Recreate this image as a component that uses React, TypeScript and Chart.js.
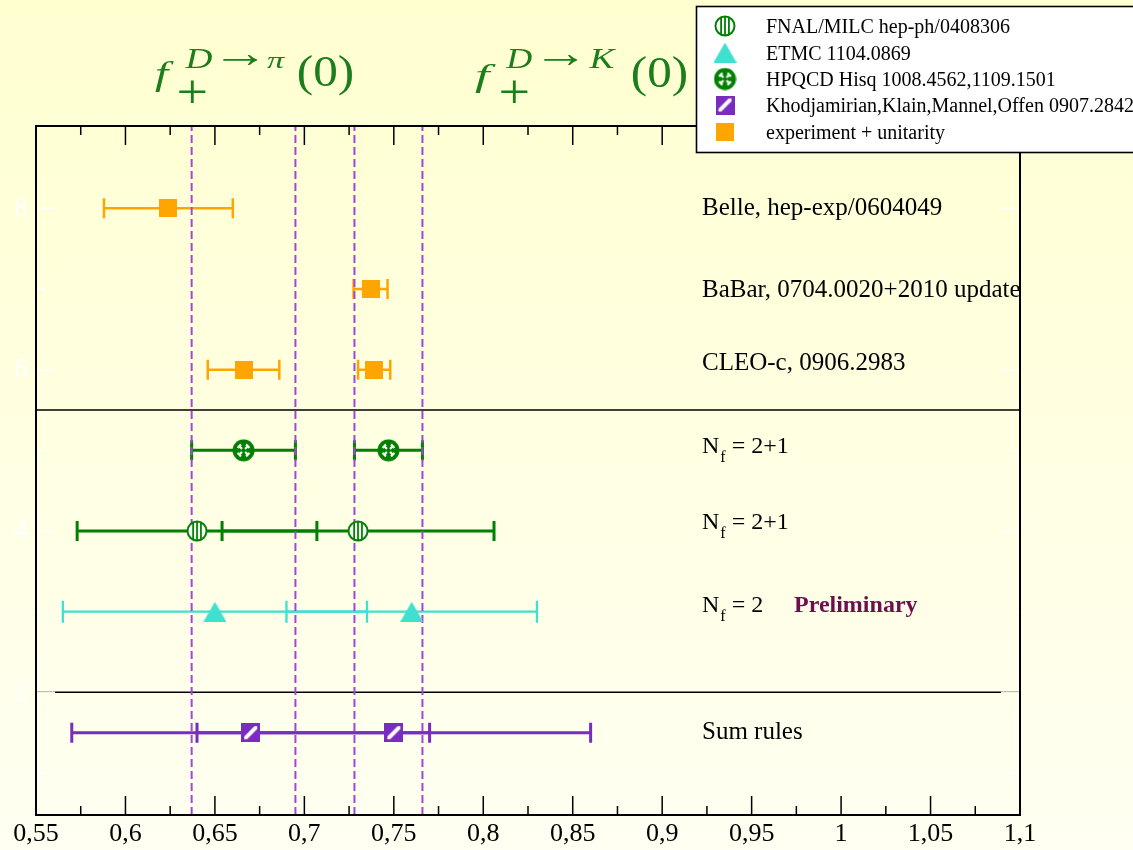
import React, { useEffect, useRef } from "react";
import { Chart, registerables } from "chart.js";

Chart.register(...registerables);

// Axis ranges
const X_MIN = 0.55;
const X_MAX = 1.1;
const Y_MIN = 0.48;
const Y_MAX = 9.02;

// experiment + unitarity: Belle (pi), BaBar (K), CLEO-c (pi, K)
const expX = [0.624, 0.737, 0.666, 0.739];
const expY = [8, 7, 6, 6];
const expErr = [0.036, 0.0095, 0.02, 0.009];

// HPQCD Hisq (pi, K)
const hpqcdX = [0.666, 0.747];
const hpqcdY = [5, 5];
const hpqcdErr = [0.029, 0.019];

// FNAL/MILC (pi, K)
const fnalX = [0.64, 0.73];
const fnalY = [4, 4];
const fnalErr = [0.067, 0.076];

// ETMC (pi, K)
const etmcX = [0.65, 0.76];
const etmcY = [3, 3];
const etmcErr = [0.085, 0.07];

// Light-cone sum rules (pi, K)
const lcsrX = [0.67, 0.75];
const lcsrY = [1.5, 1.5];
const lcsrErr = [0.1, 0.11];

// HPQCD bands shown as dashed verticals
const bandEdges = [0.637, 0.695, 0.728, 0.766];
// Group separators
const separatorY = [5.5, 2];

const rowTexts = ["Belle, hep-exp/0604049", "BaBar, 0704.0020+2010 update", "CLEO-c, 0906.2983"];
const rowTextY = [8, 7, 6];
const nfValues = ["2+1", "2+1", "2"];
const nfY = [5, 4, 3];
const sumRuleText = "Sum rules";
const sumRuleY = 1.5;
const preliminaryText = "Preliminary";

const legendLabels = [
  "FNAL/MILC hep-ph/0408306",
  "ETMC 1104.0869",
  "HPQCD Hisq 1008.4562,1109.1501",
  "Khodjamirian,Klain,Mannel,Offen 0907.2842",
  "experiment + unitarity",
];

const ORANGE = "#ffa500";
const GREEN = "#008000";
const TURQ = "#40e0d0";
const PURPLE = "#7a2cc0";
const DASH = "#a346d6";
const TITLE_GREEN = "#1b7d1b";
const PRELIM = "#6c0f50";
const SERIF = '"Liberation Serif", "Times New Roman", serif';

type Ctx = CanvasRenderingContext2D;

function markerCanvas(w: number, h: number, draw: (g: Ctx) => void): HTMLCanvasElement {
  const c = document.createElement("canvas");
  c.width = w;
  c.height = h;
  draw(c.getContext("2d") as Ctx);
  return c;
}

function makeMarkers() {
  const square = markerCanvas(18, 18, (g) => {
    g.fillStyle = ORANGE;
    g.fillRect(0, 0, 18, 18);
  });
  const triangle = markerCanvas(23, 20, (g) => {
    g.fillStyle = TURQ;
    g.beginPath();
    g.moveTo(11.5, 0);
    g.lineTo(23, 20);
    g.lineTo(0, 20);
    g.closePath();
    g.fill();
  });
  const striped = markerCanvas(22, 22, (g) => {
    g.save();
    g.beginPath();
    g.arc(11, 11, 9.5, 0, Math.PI * 2);
    g.fillStyle = "#fff";
    g.fill();
    g.clip();
    g.fillStyle = GREEN;
    [6.2, 10.1, 14.0].forEach((x) => g.fillRect(x, 0, 1.8, 22));
    g.restore();
    g.beginPath();
    g.arc(11, 11, 9.5, 0, Math.PI * 2);
    g.strokeStyle = GREEN;
    g.lineWidth = 2;
    g.stroke();
  });
  const crossed = markerCanvas(23, 23, (g) => {
    const c = 11.5;
    g.beginPath();
    g.arc(c, c, 11, 0, Math.PI * 2);
    g.fillStyle = GREEN;
    g.fill();
    g.strokeStyle = "#fff";
    g.lineWidth = 2.2;
    for (let k = 0; k < 4; k++) {
      const a = Math.PI / 4 + (k * Math.PI) / 2;
      const ux = Math.cos(a);
      const uy = Math.sin(a);
      g.beginPath();
      g.moveTo(c + ux * 2.2, c + uy * 2.2);
      g.lineTo(c + ux * 6.5, c + uy * 6.5);
      g.moveTo(c + ux * 6 - uy * 2.4, c + uy * 6 + ux * 2.4);
      g.lineTo(c + ux * 6 + uy * 2.4, c + uy * 6 - ux * 2.4);
      g.stroke();
    }
  });
  const hatched = markerCanvas(19, 19, (g) => {
    g.fillStyle = PURPLE;
    g.fillRect(0, 0, 19, 19);
    g.save();
    g.beginPath();
    g.rect(3, 3, 13, 13);
    g.clip();
    g.strokeStyle = "#fff";
    g.lineWidth = 4;
    g.beginPath();
    g.moveTo(2, 17);
    g.lineTo(17, 2);
    g.stroke();
    g.restore();
  });
  return { square, triangle, striped, crossed, hatched };
}

// Draws a piece of text stretched so that its ink fills the given box.
function fitText(ctx: Ctx, text: string, font: string, x0: number, y0: number, x1: number, y1: number) {
  ctx.save();
  ctx.font = font;
  ctx.textAlign = "left";
  ctx.textBaseline = "alphabetic";
  const m = ctx.measureText(text);
  const w = m.actualBoundingBoxLeft + m.actualBoundingBoxRight;
  const h = m.actualBoundingBoxAscent + m.actualBoundingBoxDescent;
  ctx.translate(x0, y0);
  ctx.scale((x1 - x0) / w, (y1 - y0) / h);
  ctx.fillText(text, m.actualBoundingBoxLeft, m.actualBoundingBoxAscent);
  ctx.restore();
}

function drawFormFactorTitle(
  ctx: Ctx,
  meson: string,
  box: { f: number[]; D: number[]; arrow: number[]; meson: number[]; plus: number[]; arg: number[] }
) {
  ctx.fillStyle = TITLE_GREEN;
  fitText(ctx, "f", `italic 40px ${SERIF}`, box.f[0], box.f[1], box.f[2], box.f[3]);
  fitText(ctx, "D", `italic 27px ${SERIF}`, box.D[0], box.D[1], box.D[2], box.D[3]);
  fitText(ctx, "\u2192", `27px ${SERIF}`, box.arrow[0], box.arrow[1], box.arrow[2], box.arrow[3]);
  fitText(ctx, meson, `italic 27px ${SERIF}`, box.meson[0], box.meson[1], box.meson[2], box.meson[3]);
  fitText(ctx, "+", `38px ${SERIF}`, box.plus[0], box.plus[1], box.plus[2], box.plus[3]);
  fitText(ctx, "(0)", `42px ${SERIF}`, box.arg[0], box.arg[1], box.arg[2], box.arg[3]);
}

function formatTick(v: number): string {
  return (Math.round(v * 1000) / 1000).toString().replace(".", ",");
}

export default function App() {
  const ref = useRef<HTMLCanvasElement>(null);

  useEffect(() => {
    const canvas = ref.current;
    if (!canvas) return;
    const mk = makeMarkers();

    const errorGroups = [
      { xs: expX, ys: expY, errs: expErr, color: ORANGE, width: 2.5, cap: 20 },
      { xs: hpqcdX, ys: hpqcdY, errs: hpqcdErr, color: GREEN, width: 3, cap: 20 },
      { xs: fnalX, ys: fnalY, errs: fnalErr, color: GREEN, width: 3, cap: 20 },
      { xs: etmcX, ys: etmcY, errs: etmcErr, color: TURQ, width: 2.3, cap: 22 },
      { xs: lcsrX, ys: lcsrY, errs: lcsrErr, color: PURPLE, width: 3, cap: 20 },
    ];

    const legendMarkers = [mk.striped, mk.triangle, mk.crossed, mk.hatched, mk.square];

    const toPoints = (xs: number[], ys: number[]) => xs.map((x, i) => ({ x, y: ys[i] }));

    const decor = {
      id: "decor",
      beforeDraw(chart: Chart) {
        const ctx = chart.ctx;
        const g = ctx.createLinearGradient(0, 0, 0, chart.height);
        g.addColorStop(0, "#ffffd0");
        g.addColorStop(1, "#fffff2");
        ctx.save();
        ctx.fillStyle = g;
        ctx.fillRect(0, 0, chart.width, chart.height);
        ctx.restore();
      },
      beforeDatasetsDraw(chart: Chart) {
        const ctx = chart.ctx;
        const { left, right, top, bottom } = chart.chartArea;
        const sx = chart.scales.x;
        const sy = chart.scales.y;
        ctx.save();

        // group separators
        ctx.strokeStyle = "#000";
        ctx.lineWidth = 1.5;
        separatorY.forEach((v) => {
          const py = sy.getPixelForValue(v);
          ctx.beginPath();
          ctx.moveTo(left, py);
          ctx.lineTo(right, py);
          ctx.stroke();
        });

        // inward y ticks (white)
        ctx.strokeStyle = "rgba(255,255,255,0.95)";
        ctx.lineWidth = 1.5;
        for (let v = 1; v <= 9; v++) {
          const py = sy.getPixelForValue(v);
          const len = v % 2 === 0 ? 19 : 9;
          ctx.beginPath();
          ctx.moveTo(left, py);
          ctx.lineTo(left + len, py);
          ctx.moveTo(right, py);
          ctx.lineTo(right - len, py);
          ctx.stroke();
        }

        // error bars
        errorGroups.forEach((grp) => {
          ctx.strokeStyle = grp.color;
          ctx.lineWidth = grp.width;
          ctx.lineCap = "butt";
          grp.xs.forEach((x, i) => {
            const py = sy.getPixelForValue(grp.ys[i]);
            const lo = sx.getPixelForValue(x - grp.errs[i]);
            const hi = sx.getPixelForValue(x + grp.errs[i]);
            ctx.beginPath();
            ctx.moveTo(lo, py);
            ctx.lineTo(hi, py);
            ctx.moveTo(lo, py - grp.cap / 2);
            ctx.lineTo(lo, py + grp.cap / 2);
            ctx.moveTo(hi, py - grp.cap / 2);
            ctx.lineTo(hi, py + grp.cap / 2);
            ctx.stroke();
          });
        });

        // HPQCD band edges
        ctx.strokeStyle = DASH;
        ctx.lineWidth = 2;
        ctx.setLineDash([8, 4]);
        bandEdges.forEach((v) => {
          const px = sx.getPixelForValue(v);
          ctx.beginPath();
          ctx.moveTo(px, bottom);
          ctx.lineTo(px, top);
          ctx.stroke();
        });
        ctx.restore();
      },
      afterDatasetsDraw(chart: Chart) {
        const ctx = chart.ctx;
        const { left, right, top, bottom } = chart.chartArea;
        const sx = chart.scales.x;
        const sy = chart.scales.y;
        ctx.save();

        // inward x ticks on bottom and top
        ctx.strokeStyle = "#000";
        ctx.lineWidth = 1.5;
        for (let i = 0; i <= 22; i++) {
          const v = X_MIN + i * 0.025;
          const px = sx.getPixelForValue(v);
          const len = i % 2 === 0 ? 19 : 9;
          ctx.beginPath();
          ctx.moveTo(px, bottom);
          ctx.lineTo(px, bottom - len);
          ctx.moveTo(px, top);
          ctx.lineTo(px, top + len);
          ctx.stroke();
        }

        // frame
        ctx.lineWidth = 2;
        ctx.strokeRect(left, top, right - left, bottom - top);

        // row labels
        const labelX = 702;
        ctx.fillStyle = "#000";
        ctx.textAlign = "left";
        ctx.textBaseline = "alphabetic";
        ctx.font = `25px ${SERIF}`;
        const rowShift = [6.5, 8, 0];
        rowTexts.forEach((t, i) => {
          ctx.fillText(t, labelX, sy.getPixelForValue(rowTextY[i]) + rowShift[i]);
        });
        const nfShift = [3, -2, 0];
        nfValues.forEach((val, i) => {
          const base = sy.getPixelForValue(nfY[i]) + nfShift[i];
          ctx.font = `24px ${SERIF}`;
          ctx.fillText("N", labelX, base);
          const wN = ctx.measureText("N").width;
          ctx.font = `16px ${SERIF}`;
          ctx.fillText("f", labelX + wN + 1, base + 9);
          const wf = ctx.measureText("f").width;
          ctx.font = `24px ${SERIF}`;
          ctx.fillText("= " + val, labelX + wN + wf + 7, base);
        });
        ctx.font = `bold 24px ${SERIF}`;
        ctx.fillStyle = PRELIM;
        ctx.fillText(preliminaryText, 794, sy.getPixelForValue(nfY[2]));
        ctx.font = `25px ${SERIF}`;
        ctx.fillStyle = "#000";
        ctx.fillText(sumRuleText, labelX, sy.getPixelForValue(sumRuleY) + 6);

        // titles
        drawFormFactorTitle(ctx, "\u03c0", {
          f: [155, 62, 174, 93],
          D: [184, 49, 213, 68],
          arrow: [222, 54, 258, 65],
          meson: [267, 57, 286, 68],
          plus: [178, 80, 206, 103],
          arg: [298, 54, 353, 97],
        });
        drawFormFactorTitle(ctx, "K", {
          f: [475, 63, 496, 93],
          D: [505, 48, 533, 68],
          arrow: [543, 54, 578, 65],
          meson: [588, 48, 617, 68],
          plus: [500, 80, 528, 103],
          arg: [632, 55, 687, 97],
        });

        // legend
        ctx.fillStyle = "#fff";
        ctx.fillRect(696, 6, 440, 147);
        ctx.strokeStyle = "#000";
        ctx.lineWidth = 1.6;
        ctx.strokeRect(696.5, 6.5, 440, 146);
        const legendBase = [33, 59.5, 86, 112, 139];
        ctx.font = `20px ${SERIF}`;
        ctx.fillStyle = "#000";
        legendLabels.forEach((t, i) => {
          const m = legendMarkers[i];
          const cy = legendBase[i] - 7;
          ctx.drawImage(m, 725 - m.width / 2, cy - m.height / 2);
          ctx.fillText(t, 766, legendBase[i]);
        });
        ctx.restore();
      },
    };

    const chart = new Chart(canvas, {
      type: "scatter",
      data: {
        datasets: [
          { data: toPoints(expX, expY), pointStyle: mk.square as any },
          { data: toPoints(hpqcdX, hpqcdY), pointStyle: mk.crossed as any },
          { data: toPoints(fnalX, fnalY), pointStyle: mk.striped as any },
          { data: toPoints(etmcX, etmcY), pointStyle: mk.triangle as any },
          { data: toPoints(lcsrX, lcsrY), pointStyle: mk.hatched as any },
        ],
      },
      options: {
        animation: false,
        responsive: false,
        devicePixelRatio: 1,
        events: [],
        layout: { padding: { top: 126, right: 113, left: 0, bottom: 0 } },
        plugins: { legend: { display: false }, tooltip: { enabled: false } },
        scales: {
          x: {
            type: "linear",
            min: X_MIN,
            max: X_MAX,
            grid: { display: false, drawTicks: false },
            border: { display: false },
            ticks: {
              stepSize: 0.05,
              autoSkip: false,
              maxRotation: 0,
              color: "#000",
              padding: 4,
              font: { family: SERIF, size: 26 },
              callback: (v: any) => formatTick(Number(v)),
            },
            afterFit: (s: any) => {
              s.height = 35;
            },
          },
          y: {
            type: "linear",
            min: Y_MIN,
            max: Y_MAX,
            grid: { display: false, drawTicks: false },
            border: { display: false },
            ticks: {
              stepSize: 1,
              autoSkip: false,
              color: "#ffffff",
              padding: 8,
              font: { family: SERIF, size: 28 },
              callback: (v: any) => {
                const n = Number(v);
                return n === 2 || n === 4 || n === 6 || n === 8 ? String(n) : "";
              },
            },
            afterFit: (s: any) => {
              s.width = 36;
            },
          },
        },
      },
      plugins: [decor as any],
    });

    return () => chart.destroy();
  }, []);

  return (
    <div style={{ position: "absolute", left: 0, top: 0, width: 1133, height: 850 }}>
      <canvas ref={ref} width={1133} height={850} style={{ display: "block" }} />
    </div>
  );
}
